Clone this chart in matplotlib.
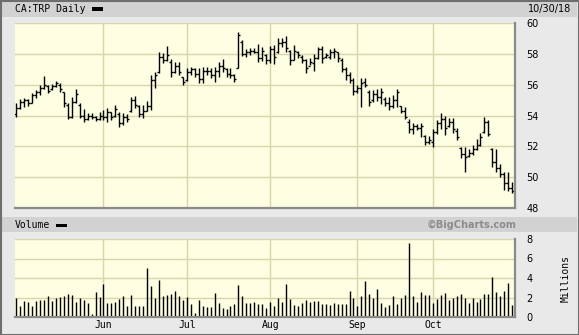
import numpy as np
import pandas as pd
import matplotlib
matplotlib.use("Agg")
import matplotlib.pyplot as plt
from matplotlib.patches import Rectangle

# TSX trading days, May 1 - Oct 30 2018
holidays = ["2018-05-21", "2018-07-02", "2018-08-06", "2018-09-03", "2018-10-08"]
dates = pd.bdate_range("2018-05-01", "2018-10-30", freq="C", holidays=holidays)

highs = [54.83, 55.05, 55.16, 55.10, 55.44, 55.65, 55.98, 56.56, 55.98, 56.04,
         56.26, 56.13, 55.55, 54.83, 55.18, 55.70, 54.79, 54.40, 54.18, 54.18,
         53.97, 54.25, 54.36, 54.47, 54.25, 54.68, 54.20, 54.14, 54.08, 55.22,
         55.27, 54.68, 54.68, 54.94, 56.63, 56.80, 58.10, 58.03, 58.51, 57.64,
         57.49, 57.49, 56.52, 57.06, 57.17, 57.06, 57.06, 57.17, 57.17, 57.10,
         57.17, 57.49, 57.64, 57.10, 57.06, 56.67, 59.44, 58.90, 58.31, 58.40,
         58.36, 58.62, 58.46, 57.97, 58.53, 58.57, 59.05, 59.00, 59.18, 58.25,
         58.57, 58.18, 57.92, 57.64, 57.71, 57.99, 58.47, 58.51, 58.03, 58.29,
         58.36, 58.14, 57.71, 57.17, 56.84, 56.41, 55.98, 56.41, 56.41, 55.65,
         55.65, 55.70, 55.76, 55.22, 55.18, 55.33, 55.70, 54.62, 54.57, 53.75,
         53.49, 53.45, 53.49, 52.74, 52.67, 53.10, 53.71, 54.18, 53.97, 53.82,
         53.82, 53.17, 51.98, 51.98, 51.81, 52.09, 52.46, 52.84, 53.92, 53.71,
         51.87, 51.81, 50.86, 50.36, 50.36, 49.71]
lows = [53.88, 54.40, 54.57, 54.60, 54.79, 55.11, 55.33, 55.70, 55.44, 55.65,
        55.87, 55.55, 54.57, 53.75, 53.82, 54.79, 53.82, 53.60, 53.71, 53.75,
        53.67, 53.71, 53.71, 53.60, 53.71, 53.93, 53.28, 53.38, 53.60, 54.25,
        54.47, 53.93, 53.82, 54.29, 54.36, 55.76, 56.74, 57.38, 57.54, 56.52,
        56.74, 56.63, 55.98, 56.24, 56.63, 56.52, 56.09, 56.09, 56.63, 56.41,
        56.20, 56.52, 56.84, 56.52, 56.45, 56.20, 57.06, 57.88, 57.82, 57.92,
        58.03, 57.49, 57.54, 57.32, 57.38, 57.32, 58.03, 58.46, 58.14, 57.28,
        57.60, 57.71, 57.38, 56.78, 57.28, 56.91, 57.64, 57.38, 57.71, 57.64,
        57.71, 57.49, 56.84, 56.30, 56.09, 55.33, 55.44, 54.57, 55.83, 54.62,
        54.90, 54.96, 54.75, 54.62, 54.36, 54.47, 54.53, 54.14, 53.75, 52.89,
        52.80, 53.06, 52.63, 52.09, 52.15, 51.98, 52.80, 53.10, 52.74, 53.23,
        52.84, 52.41, 51.22, 50.36, 51.29, 51.44, 51.76, 52.02, 52.84, 52.67,
        50.68, 50.36, 49.99, 49.17, 49.13, 48.95]
opens = [54.1, 54.5, 54.9, 55.0, 54.8, 55.3, 55.5, 55.8, 55.9, 55.7,
         55.9, 56.0, 55.5, 54.7, 53.9, 54.9, 54.7, 54.0, 53.8, 54.0,
         53.9, 53.8, 54.0, 53.9, 54.2, 54.0, 54.1, 53.5, 53.9, 54.3,
         55.0, 54.6, 54.1, 54.3, 54.6, 56.3, 56.8, 57.8, 57.6, 57.5,
         56.8, 57.2, 56.5, 56.3, 56.8, 57.0, 56.7, 56.4, 56.9, 56.9,
         56.6, 56.9, 57.2, 57.0, 56.7, 56.6, 57.1, 58.8, 58.0, 58.1,
         58.2, 58.1, 57.7, 57.9, 57.6, 58.3, 58.1, 58.7, 58.8, 58.2,
         57.6, 58.1, 57.8, 57.6, 57.2, 57.4, 57.7, 58.3, 57.8, 57.8,
         58.1, 58.1, 57.6, 57.0, 56.6, 56.3, 55.6, 55.8, 56.2, 55.5,
         55.0, 55.4, 55.2, 55.1, 54.8, 54.6, 55.0, 54.6, 54.3, 53.6,
         53.1, 53.3, 53.2, 52.7, 52.3, 52.3, 52.9, 53.5, 53.8, 53.3,
         53.6, 53.0, 51.9, 51.5, 51.4, 51.6, 51.8, 52.1, 52.9, 53.6,
         51.8, 51.0, 50.6, 50.2, 49.6, 49.3]
closes = [54.5, 54.9, 55.0, 54.8, 55.3, 55.5, 55.8, 56.0, 55.6, 55.9,
          56.1, 55.7, 54.8, 53.9, 54.9, 55.4, 54.0, 53.8, 54.0, 53.9,
          53.8, 54.0, 53.9, 54.2, 53.9, 54.4, 53.5, 53.9, 53.8, 55.0,
          54.7, 54.1, 54.3, 54.6, 56.3, 56.6, 57.8, 57.6, 57.9, 56.8,
          57.2, 56.8, 56.2, 56.8, 57.0, 56.7, 56.4, 56.9, 56.9, 56.6,
          56.9, 57.2, 57.1, 56.7, 56.6, 56.4, 59.2, 58.0, 58.1, 58.2,
          58.1, 57.7, 58.2, 57.6, 58.3, 57.8, 58.7, 58.8, 58.4, 57.6,
          58.2, 57.9, 57.6, 57.1, 57.5, 57.7, 58.3, 57.7, 57.9, 58.1,
          58.2, 57.7, 57.0, 56.6, 56.3, 55.6, 55.8, 56.1, 56.0, 54.9,
          55.4, 55.2, 55.5, 54.8, 54.6, 55.0, 55.5, 54.3, 53.9, 53.1,
          53.3, 53.2, 53.3, 52.3, 52.4, 52.9, 53.5, 53.8, 53.2, 53.6,
          53.1, 52.6, 51.5, 51.3, 51.6, 51.8, 52.1, 52.6, 53.6, 52.8,
          51.0, 50.6, 50.2, 49.6, 49.3, 49.1]
# volume, millions
volume = [1.91, 1.16, 1.68, 1.54, 1.16, 1.60, 1.78, 1.71, 2.15, 1.68,
          1.98, 2.02, 2.15, 2.32, 2.29, 1.57, 1.98, 1.71, 1.47, 0.34,
          2.60, 2.09, 3.42, 1.40, 1.44, 1.57, 1.88, 2.15, 1.16, 2.29,
          1.09, 1.09, 1.09, 5.06, 3.21, 1.91, 3.83, 2.19, 2.22, 2.39,
          2.63, 2.12, 1.71, 2.09, 1.37, 0.38, 1.71, 1.16, 1.06, 1.06,
          2.50, 1.40, 0.96, 0.79, 1.16, 1.33, 3.32, 2.19, 1.40, 1.47,
          1.57, 1.33, 1.37, 0.89, 1.57, 1.16, 1.91, 1.57, 3.42, 1.85,
          1.26, 1.16, 1.44, 1.78, 1.50, 1.68, 1.68, 1.30, 1.30, 1.26,
          1.47, 1.30, 1.30, 1.37, 2.67, 1.98, 1.16, 2.12, 3.73, 2.39,
          1.98, 2.87, 1.47, 0.99, 1.26, 2.15, 1.37, 1.95, 2.26, 7.59,
          2.15, 1.50, 2.60, 2.26, 2.26, 1.47, 1.88, 2.26, 2.46, 1.78,
          1.98, 2.12, 2.36, 1.98, 1.44, 1.98, 1.57, 1.85, 2.36, 2.36,
          4.10, 2.60, 2.15, 2.67, 3.52, 1.26]

price_ticks = [48, 50, 52, 54, 56, 58, 60]
vol_ticks = [0, 2, 4, 6, 8]

W, H = 579, 335
BG = "#e9e9e9"
STRIP = "#d2d2d2"
PLOT_BG = "#fefee2"
GRID = "#d6d6aa"
EDGE = "#8a8a8a"


def fx(px):
    return px / W


def fy(py):
    return 1 - py / H


x = np.arange(len(dates))
month_starts = [i for i in range(1, len(dates)) if dates[i].month != dates[i - 1].month]
month_labels = [dates[i].strftime("%b") for i in month_starts]

fig = plt.figure(figsize=(W / 100, H / 100), dpi=100, facecolor=BG)

# header strips and outer frame
fig.patches.append(Rectangle((fx(2), fy(17)), fx(575), 16 / H, transform=fig.transFigure,
                             facecolor=STRIP, edgecolor="none", zorder=0))
fig.patches.append(Rectangle((fx(2), fy(232)), fx(575), 15 / H, transform=fig.transFigure,
                             facecolor=STRIP, edgecolor="none", zorder=0))
fig.patches.append(Rectangle((0.5 / W, 0.5 / H), 1 - 1 / W, 1 - 1 / H, transform=fig.transFigure,
                             facecolor="none", edgecolor="#6e6e6e", lw=1.5, zorder=5))

xlim = (-0.3, 125.7)


def style_axes(ax):
    ax.set_facecolor(PLOT_BG)
    ax.set_xlim(*xlim)
    for s in ("left", "top"):
        ax.spines[s].set_visible(False)
    for s in ("bottom", "right"):
        ax.spines[s].set_color(EDGE)
        ax.spines[s].set_linewidth(1.6)
    ax.yaxis.tick_right()
    ax.tick_params(length=0, labelsize=7, colors="black")
    ax.set_xticks(month_starts)
    ax.grid(True, color=GRID, lw=1.0)
    ax.set_axisbelow(True)


# price panel
ax = fig.add_axes([fx(15), fy(208), fx(500), 185 / H])
style_axes(ax)
ax.set_ylim(48, 60)
ax.set_yticks(price_ticks)
ax.set_yticklabels([str(t) for t in price_ticks])
ax.tick_params(axis="y", pad=8)
ax.set_xticklabels([])
ax.vlines(x, lows, highs, color="black", lw=1.0)
ax.hlines(opens, x - 0.5, x, color="black", lw=1.0)
ax.hlines(closes, x, x + 0.5, color="black", lw=1.0)

# volume panel
axv = fig.add_axes([fx(15), fy(317), fx(500), 78 / H])
style_axes(axv)
axv.set_ylim(0, 8)
axv.set_yticks(vol_ticks)
axv.set_yticklabels([str(t) for t in vol_ticks])
axv.tick_params(axis="y", pad=8)
axv.set_xticklabels(month_labels, family="DejaVu Sans Mono", fontsize=7)
axv.tick_params(axis="x", pad=2)
axv.vlines(x, 0, volume, color="black", lw=1.0)

# header texts
mono = "DejaVu Sans Mono"
fig.text(fx(15), fy(9), "CA:TRP Daily", family=mono, fontsize=7, va="center", ha="left")
fig.patches.append(Rectangle((fx(92), fy(11)), fx(11), 3.5 / H, transform=fig.transFigure,
                             facecolor="black", edgecolor="none"))
fig.text(fx(571), fy(9), "10/30/18", fontsize=7, va="center", ha="right")
fig.text(fx(15), fy(225), "Volume", family=mono, fontsize=7, va="center", ha="left")
fig.patches.append(Rectangle((fx(56), fy(227)), fx(11), 3.5 / H, transform=fig.transFigure,
                             facecolor="black", edgecolor="none"))
fig.text(fx(516), fy(225), "\u00a9BigCharts.com", fontsize=7, fontweight="bold",
         color="#8c8c8c", va="center", ha="right")
fig.text(fx(566), fy(278), "Millions", family=mono, fontsize=7, rotation=90,
         va="center", ha="center")

fig.savefig("out.png", dpi=100, facecolor=BG)
